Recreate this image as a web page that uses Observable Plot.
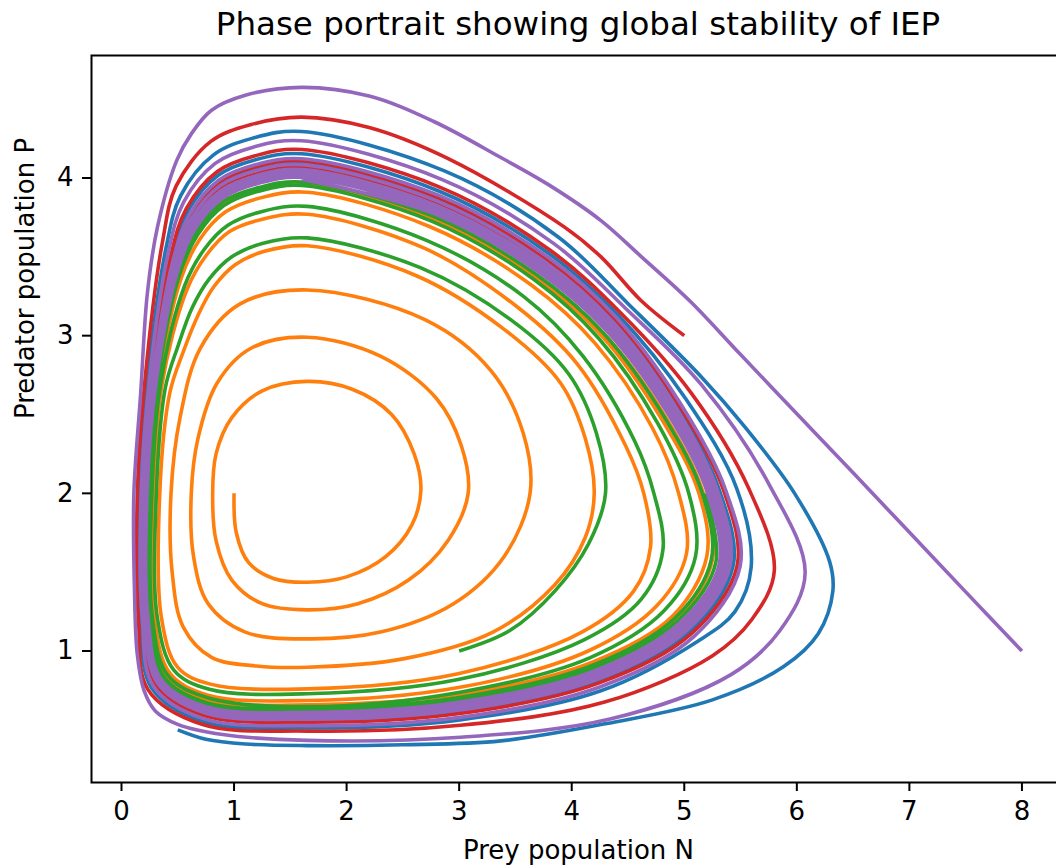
<!DOCTYPE html>
<html>
<head>
<meta charset="utf-8">
<script src="https://cdn.jsdelivr.net/npm/d3@7"></script>
<script src="https://cdn.jsdelivr.net/npm/@observablehq/plot@0.6"></script>
<style>
html, body { margin: 0; padding: 0; background: #fff; overflow: hidden; }
#wrap { position: relative; width: 1056px; height: 868px; overflow: hidden; }
#title { width: 1156px; height: 48px; line-height: 48px; text-align: center;
  font-family: "DejaVu Sans", sans-serif; font-size: 32.5px; color: #000; white-space: nowrap; }
#chart { width: 1072px; }
#chart svg { display: block; max-width: none !important; width: 1072px; height: 820px; }
</style>
</head>
<body>
<div id="wrap">
  <div id="title"></div>
  <div id="chart"></div>
</div>
<script>
// ---- text ----
const titleText = "Phase portrait showing global stability of IEP";
const xLabel = "Prey population N";
const yLabel = "Predator population P";
const xTicks = [0, 1, 2, 3, 4, 5, 6, 7, 8];
const yTicks = [1, 2, 3, 4];

// ---- trajectories: [N, P] ----
const blueTraj = [
[0.5,0.5],[0.75,0.44],[1.1,0.41],[1.65,0.4],[2.5,0.405],[3.37,0.43],[4.31,0.54],[5.25,0.69],[5.88,0.9],[6.19,1.11],[6.32,1.38],[6.29,1.57],[5.98,2.0],[5.54,2.42],[5.15,2.74],[4.507,3.198],[3.88,3.626],[2.869,4.045],[1.6,4.295],
[1.167,4.253],[0.818,4.147],[0.525,3.887],[0.394,3.55],[0.233,2.727],[0.161,2.0],[0.171,1.195],[0.265,0.769],[0.722,0.553],[1.65,0.512],
[3.007,0.563],[4.259,0.748],[5.117,1.061],[5.45,1.25],[5.594,1.53],[5.467,2.029],[5.011,2.601],[4.418,3.126],[3.797,3.521],[2.823,3.916],[1.6,4.154],
[1.191,4.116],[0.856,4.016],[0.587,3.788],[0.443,3.482],[0.268,2.715],[0.193,2.0],[0.203,1.197],[0.308,0.792],[0.735,0.598],[1.65,0.558],[3.004,0.615],[4.232,0.808],[5.037,1.118],[5.434,1.541],[5.316,2.012],[4.934,2.553],[4.377,3.092],[3.762,3.477],[2.803,3.862],[1.6,4.091],
[1.202,4.054],[0.873,3.956],[0.615,3.742],[0.465,3.45],[0.284,2.709],[0.207,2.0],[0.217,1.198],[0.328,0.803],[0.741,0.618],[1.65,0.58],[3.003,0.64],[4.22,0.835],[5.003,1.142],[5.382,1.544],[5.271,2.008],[4.904,2.534],[4.35,3.071],[3.742,3.452],[2.792,3.831],[1.6,4.056],
[1.208,4.02],[0.882,3.923],[0.631,3.717],[0.478,3.431],[0.294,2.706],[0.215,2.0],[0.225,1.199],[0.339,0.808],[0.744,0.629],[1.65,0.59]
];

const orangeTraj = [
[1.0,2.0],[1.02,1.75],[1.13,1.56],[1.35,1.46],[1.65,1.436],[2.0,1.47],[2.35,1.6],[2.58,1.8],[2.66,2.02],[2.6,2.25],[2.4,2.5],[2.05,2.66],[1.65,2.71],[1.25,2.65],[0.98,2.48],[0.84,2.25],[0.81,2.0],
[0.84,1.7],[0.98,1.45],[1.25,1.3],[1.65,1.261],[2.1,1.3],[2.55,1.45],[2.9,1.7],[3.08,2.0],[3.02,2.3],[2.8,2.6],[2.3,2.87],[1.65,2.99],[1.15,2.92],[0.85,2.7],[0.68,2.35],[0.62,2.0],
[0.64,1.6],[0.77,1.3],[1.1,1.12],[1.65,1.077],[2.3,1.12],[2.95,1.3],[3.4,1.6],[3.63,2.0],[3.57,2.38],[3.28,2.78],[2.7,3.1],[1.65,3.29],[1.05,3.2],[0.7,2.92],[0.52,2.48],[0.44,2.0],
[0.45,1.5],[0.55,1.15],[0.8,0.96],[1.2,0.905],[1.65,0.897],[2.5,0.95],[3.3,1.12],[3.85,1.42],[4.12,1.72],[4.2,2.0],[4.12,2.35],[3.9,2.7],[3.4,3.04],[2.62,3.38],[1.65,3.57],[1.27,3.535],[1.01,3.45],[0.82,3.31],[0.68,3.13],[0.55,2.9],[0.43,2.64],[0.34,2.0],
[0.355,1.21],[0.5,0.896],[0.79,0.79],[1.65,0.76],[2.99,0.856],[4.09,1.12],[4.55,1.38],[4.7,1.66],[4.64,2.0],[4.48,2.3],[4.05,2.82],[3.52,3.18],[2.69,3.555],[1.65,3.77],[1.26,3.74],[0.96,3.66],[0.757,3.513],[0.58,3.29],[0.358,2.683],[0.29,2.0],
[0.293,1.204],[0.431,0.858],[0.77,0.72],[1.65,0.686],[2.994,0.768],[4.146,1.0],[4.76,1.29],[5.02,1.62],[4.95,2.0],[4.716,2.416],[4.206,2.953],[3.638,3.323],[2.741,3.691],[1.65,3.91],[1.234,3.874],[0.922,3.784],[0.696,3.612],[0.528,3.36],[0.33,2.693],[0.255,2.0],
[0.262,1.201],[0.392,0.837],[0.761,0.688],[1.65,0.659],[2.997,0.724],[4.178,0.928],[4.894,1.22],[5.2,1.6],[5.13,2.0],[4.8,2.47],[4.265,3.001],[3.676,3.37],[2.759,3.74],[1.6,3.958],[1.226,3.924],[0.908,3.832],[0.674,3.647],[0.511,3.385],[0.318,2.697],[0.24,2.0],
[0.249,1.201],[0.374,0.828],[0.755,0.666],[1.65,0.633],[2.999,0.699],[4.19,0.901],[4.925,1.198],[5.25,1.58],[5.17,2.0],[4.83,2.49],[4.283,3.016],[3.69,3.38],[2.765,3.752],[1.6,3.972]
];

const greenTraj = [
[3.0,1.0],[3.45,1.13],[3.85,1.38],[4.15,1.68],[4.3,2.0],[4.22,2.38],[3.97,2.76],[3.46,3.1],[2.66,3.43],[1.65,3.62],[1.25,3.585],[0.98,3.5],[0.78,3.36],[0.63,3.18],[0.5,2.93],[0.39,2.672],[0.31,2.0],
[0.32,1.205],[0.467,0.877],[0.78,0.757],[1.65,0.729],[2.99,0.819],[4.114,1.072],[4.62,1.33],[4.81,1.64],[4.73,2.0],[4.56,2.33],[4.1,2.87],[3.577,3.246],[2.71,3.605],[1.65,3.82],[1.25,3.788],[0.945,3.7],[0.736,3.548],[0.56,3.315],[0.346,2.687],[0.27,2.0],
[0.276,1.202],[0.41,0.847],[0.765,0.704],[1.65,0.647],[2.996,0.737],[4.165,0.958],[4.82,1.255],[5.1,1.6],[5.04,2.0],[4.763,2.445],[4.241,2.982],[3.665,3.356],[2.755,3.727],[1.6,3.952],[1.227,3.918],[0.91,3.825],[0.678,3.641],[0.513,3.381],[0.32,2.697],[0.243,2.0],
[0.253,1.201],[0.381,0.831],[0.756,0.672],[1.65,0.637],[2.998,0.705],[4.187,0.91],[4.913,1.206],[5.24,1.58],[5.16,2.0],[4.823,2.483],[4.282,3.016],[3.689,3.386],[2.766,3.758],[1.6,3.975],[1.223,3.94],[0.9,3.85],[0.667,3.658],[0.503,3.394],[0.313,2.699],[0.234,2.0],
[0.243,1.2],[0.37,0.825],[0.752,0.66],[1.65,0.624],[3.0,0.69],[4.195,0.892],[4.94,1.19],[5.28,1.56],[5.19,2.0]
];

const redTraj = [
[5.0,3.0],[4.62,3.22],[4.26,3.5],[3.933,3.69],[2.898,4.124],[2.2,4.32],[1.6,4.386],
[1.152,4.339],[0.794,4.232],[0.486,3.95],[0.364,3.594],[0.211,2.735],[0.141,2.0],[0.151,1.194],[0.236,0.754],[0.714,0.535],[1.65,0.492],
[3.01,0.529],[4.292,0.676],[5.248,0.969],[5.6,1.2],[5.8,1.51],[5.57,2.035],[5.064,2.634],[4.438,3.142],[3.812,3.54],[2.832,3.941],[1.6,4.181],
[1.187,4.141],[0.849,4.04],[0.576,3.806],[0.434,3.494],[0.262,2.717],[0.187,2.0],[0.197,1.197],[0.3,0.788],[0.733,0.59],[1.65,0.549],[3.005,0.604],[4.238,0.796],[5.055,1.105],[5.469,1.539],[5.351,2.016],[4.95,2.563],[4.389,3.102],[3.77,3.488],[2.809,3.877],[1.6,4.11],
[1.199,4.073],[0.868,3.973],[0.607,3.756],[0.458,3.46],[0.28,2.711],[0.203,2.0],[0.213,1.198],[0.322,0.8],[0.739,0.612],[1.65,0.573],[3.003,0.632],[4.224,0.826],[5.015,1.134],[5.398,1.543],[5.289,2.01],[4.917,2.542],[4.362,3.08],[3.751,3.463],[2.796,3.843],[1.6,4.066],
[1.207,4.029],[0.879,3.932],[0.626,3.724],[0.474,3.438],[0.291,2.707],[0.213,2.0],[0.223,1.199],[0.336,0.807],[0.743,0.626],[1.65,0.588],[3.002,0.65],[4.215,0.846],[4.99,1.151],[5.362,1.546],[5.253,2.006],[4.89,2.525],[4.338,3.061],[3.731,3.439],[2.787,3.816],[1.6,4.037],
[1.21,4.0],[0.887,3.905],[0.639,3.704],[0.483,3.424],[0.298,2.704],[0.219,2.0]
];

const purpleTraj = [
[8.0,1.0],[7.5,1.375],[7.0,1.753],[6.5,2.13],[6.0,2.505],[5.5,2.88],[5.05,3.22],[4.62,3.5],[4.26,3.73],[3.8,3.955],[3.37,4.13],[2.77,4.36],[2.2,4.52],[1.6,4.575],
[1.1,4.525],[0.8,4.43],[0.62,4.28],[0.49,4.11],[0.32,3.69],[0.23,3.27],[0.17,2.63],[0.11,2.0],[0.115,1.4],[0.14,0.98],[0.2,0.75],[0.3,0.62],[0.5,0.535],[0.9,0.47],[1.65,0.433],
[3.014,0.453],[4.34,0.568],[5.415,0.85],[5.85,1.13],[6.074,1.498],[5.752,2.059],[5.152,2.689],[4.477,3.174],[3.845,3.582],[2.849,3.99],[1.6,4.236],
[1.177,4.197],[0.833,4.093],[0.551,3.846],[0.414,3.522],[0.248,2.722],[0.175,2.0],[0.185,1.196],[0.282,0.778],[0.728,0.571],[1.65,0.527],[3.006,0.579],[4.249,0.772],[5.08,1.088],[5.496,1.537],[5.369,2.018],[4.964,2.571],[4.4,3.112],[3.781,3.502],[2.814,3.891],[1.6,4.122],
[1.197,4.085],[0.864,3.986],[0.601,3.765],[0.454,3.466],[0.276,2.712],[0.2,2.0],[0.21,1.198],[0.318,0.798],[0.738,0.608],[1.65,0.568],[3.003,0.626],[4.227,0.82],[5.021,1.129],[5.407,1.543],[5.298,2.01],[4.924,2.546],[4.368,3.085],[3.756,3.47],[2.801,3.855],[1.6,4.085],
[1.203,4.048],[0.874,3.95],[0.618,3.738],[0.467,3.447],[0.286,2.708],[0.209,2.0],[0.219,1.199],[0.33,0.804],[0.741,0.62],[1.65,0.581],[3.002,0.642],[4.219,0.838],[5.0,1.145],[5.376,1.545],[5.267,2.007],[4.9,2.532],[4.347,3.068],[3.74,3.45],[2.791,3.828],[1.6,4.053],
[1.209,4.017],[0.883,3.92],[0.632,3.715],[0.478,3.431],[0.294,2.706],[0.216,2.0],[0.226,1.199],[0.34,0.809],[0.744,0.63],[1.65,0.592],[3.002,0.655],[4.213,0.852],[4.983,1.157],[5.351,1.547],[5.245,2.005],[4.884,2.521],[4.331,3.055],[3.726,3.433],[2.784,3.808],[1.6,4.031],
[1.213,3.995],[0.889,3.899],[0.642,3.699],[0.486,3.421],[0.3,2.704],[0.221,2.0],[0.231,1.199],[0.347,0.813],[0.746,0.637],[1.65,0.6],[3.001,0.664],[4.208,0.862],[4.971,1.165],[5.333,1.548],[5.229,2.003],[4.872,2.514],[4.321,3.047],[3.717,3.421],[2.779,3.794],[1.6,4.015],
[1.216,3.98],[0.893,3.884],[0.649,3.688],[0.491,3.413],[0.304,2.702],[0.224,2.0],[0.234,1.2],[0.351,0.815],[0.747,0.642],[1.65,0.606],[3.001,0.671],[4.205,0.869],[4.963,1.171],[5.321,1.549],[5.218,2.002],[4.864,2.509],[4.313,3.04],[3.71,3.413],[2.776,3.785],[1.6,4.004],
[1.218,3.967],[0.897,3.872],[0.654,3.679],[0.496,3.406],[0.307,2.701],[0.227,2.0],[0.237,1.2],[0.355,0.817],[0.749,0.646],[1.65,0.611],[3.0,0.675],[4.203,0.874],[4.957,1.175],[5.31,1.55],[5.207,2.001],[4.856,2.504],[4.306,3.035],[3.705,3.405],[2.772,3.776],[1.6,3.993]
];

const seriesNames = ["blue", "orange", "green", "red", "purple"];
const seriesColors = ["#1f77b4", "#ff7f0e", "#2ca02c", "#d62728", "#9467bd"];
const seriesData = [blueTraj, orangeTraj, greenTraj, redTraj, purpleTraj];

document.getElementById("title").textContent = titleText;

const lineMarks = seriesData.map((traj, i) =>
  Plot.line(traj.map(([N, P]) => ({N, P, s: seriesNames[i]})), {
    x: "N", y: "P", stroke: seriesColors[i], strokeWidth: 3.6,
    curve: "catmull-rom", strokeLinejoin: "round", strokeLinecap: "butt"
  })
);

const chart = Plot.plot({
  width: 1072,
  height: 820,
  marginLeft: 91,
  marginRight: 7,
  marginTop: 7,
  marginBottom: 86,
  style: {fontFamily: "DejaVu Sans, sans-serif", fontSize: "26px", color: "#000", background: "#fff", overflow: "visible", maxWidth: "none"},
  x: {domain: [-0.2665, 8.387]},
  y: {domain: [0.166, 4.777]},
  marks: [
    ...lineMarks,
    Plot.frame({stroke: "#000", strokeWidth: 2}),
    Plot.axisX(xTicks, {tickSize: 9, tickPadding: 10, label: null, fontSize: 26, strokeWidth: 2, tickFormat: d => String(d)}),
    Plot.axisY(yTicks, {tickSize: 9, tickPadding: 9, label: null, fontSize: 26, strokeWidth: 2, tickFormat: d => String(d)}),
    Plot.text([xLabel], {text: d => d, frameAnchor: "bottom", dy: 76, fontSize: 26, fill: "#000"}),
    Plot.text([yLabel], {text: d => d, frameAnchor: "left", dx: -66, rotate: -90, fontSize: 26, fill: "#000"})
  ]
});
document.getElementById("chart").appendChild(chart);
</script>
</body>
</html>
